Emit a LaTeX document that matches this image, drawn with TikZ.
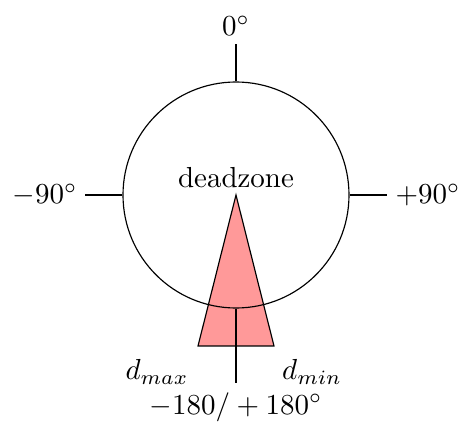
\documentclass[tikz,border=0pt]{standalone}
\begin{document}
\begin{tikzpicture}[x=0.345pt,y=-0.345pt,
  tick/.style={line width=1pt},
  lbl/.style={inner sep=0pt}]
\useasboundingbox (0,0) rectangle (460,423);
% deadzone triangle
\coordinate (apex) at (236,195);
\coordinate (bl) at (198,346);
\coordinate (br) at (274,346);
\filldraw[fill=red!40, draw=black, line width=0.4pt] (apex) -- (bl) -- (br) -- cycle;
% circle
\node[circle, draw, line width=0.4pt, minimum size=226*0.345pt, inner sep=0pt] (c) at (236,195) {};
% ticks
\coordinate (tn) at (236,44);
\coordinate (tw) at (85,195);
\coordinate (te) at (387,195);
\coordinate (ts) at (236,383);
\draw[tick] (c.north) -- (tn);
\draw[tick] (c.west) -- (tw);
\draw[tick] (c.east) -- (te);
\draw[tick] (c.south) -- (ts);
% labels
\node[lbl] (l0) at (236,26) {$0^\circ$};
\node[lbl] (lm) at (45,195) {$-90^\circ$};
\node[lbl] (lp) at (428,195) {$+90^\circ$};
\node[lbl] (dz) at (236,178) {deadzone};
\node[lbl] (dmax) at (157,372) {$d_{max}$};
\node[lbl] (dmin) at (312,372) {$d_{min}$};
\node[lbl] (l180) at (236,407) {$-180/+180^\circ$};
\end{tikzpicture}
\end{document}
